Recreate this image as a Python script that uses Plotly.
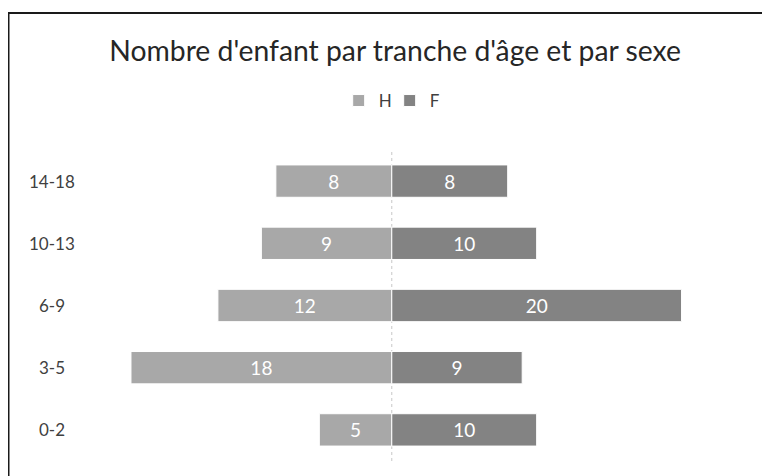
import plotly.graph_objects as go

# tranches d'âge (de bas en haut) et effectifs
ages = ["0-2", "3-5", "6-9", "10-13", "14-18"]
hommes = [5, 18, 12, 9, 8]
femmes = [10, 9, 20, 10, 8]

fig = go.Figure()

# H à gauche (valeurs négatives), étiquette = valeur absolue
fig.add_trace(go.Bar(
    y=ages, x=[-v for v in hommes], customdata=hommes,
    name="H", orientation="h",
    marker=dict(color="#a8a8a8", line=dict(color="white", width=1)),
    text=hommes, texttemplate="%{customdata}", textposition="inside",
    insidetextanchor="middle",
    textfont=dict(color="white", size=19, family="Lato"),
    hoverinfo="skip",
))

fig.add_trace(go.Bar(
    y=ages, x=femmes,
    name="F", orientation="h",
    marker=dict(color="#838383", line=dict(color="white", width=1)),
    text=femmes, textposition="inside", insidetextanchor="middle",
    textfont=dict(color="white", size=19, family="Lato"),
    hoverinfo="skip",
))

# libellés des tranches, centrés comme dans Excel
for a in ages:
    fig.add_annotation(
        x=-0.0767, xref="paper", y=a, yref="y", text=a, showarrow=False,
        xanchor="center", font=dict(size=17, color="#404040", family="Lato"),
    )

# cadre du graphique
fig.add_shape(type="rect", xref="paper", yref="paper",
              x0=-0.1434, x1=1.1, y0=-0.2, y1=1.4405,
              line=dict(color="#1a1a1a", width=2))

# axe central pointillé
fig.add_shape(type="line", xref="x", yref="paper", x0=0, x1=0, y0=0, y1=1,
              line=dict(color="#c8c8c8", width=1, dash="dot"), layer="below")

# la page ajoute 8 px de marge : la figure est réduite d'autant
fig.update_layout(
    width=762, height=468,
    margin=dict(l=94, r=16, t=142, b=15),
    barmode="relative", bargap=0.48,
    paper_bgcolor="white", plot_bgcolor="white",
    title=dict(text="Nombre d'enfant par tranche d'âge et par sexe",
               x=0.508, xanchor="center", y=0.908, yanchor="middle",
               font=dict(size=28.3, color="#262626", family="Lato")),
    legend=dict(orientation="h", x=0.363, xanchor="left", y=1.1576,
                yanchor="middle", font=dict(size=17, color="#404040", family="Lato"),
                itemwidth=30, entrywidth=6, traceorder="normal"),
    xaxis=dict(range=[-20, 25], visible=False),
    yaxis=dict(showticklabels=False, showgrid=False, zeroline=False,
               range=[-0.5, 4.5]),
    showlegend=True,
)

fig.write_html("out.html")
